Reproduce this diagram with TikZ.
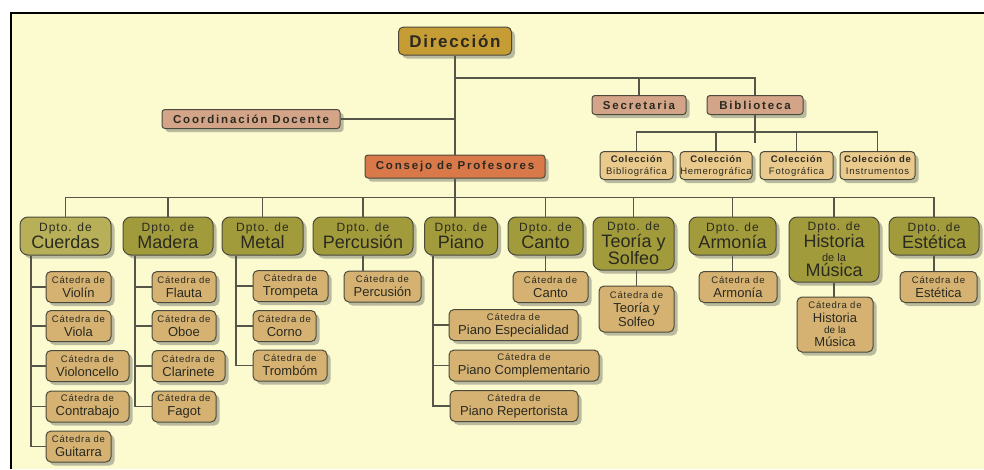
\documentclass[tikz,border=0pt]{standalone}
\usepackage{fontspec}
\setmainfont{Liberation Sans}
\newfontfamily\spaced[LetterSpace=16]{Liberation Sans}
\newfontfamily\titulo[LetterSpace=10]{Liberation Sans}
\newfontfamily\slight[LetterSpace=8]{Liberation Sans}
\usetikzlibrary{shadows}

\definecolor{fondo}{HTML}{FCFBCF}
\definecolor{linea}{HTML}{56554A}
\definecolor{borde}{HTML}{4A4A3C}
\definecolor{texto}{HTML}{2A2A20}
\definecolor{oro}{HTML}{C69C34}
\definecolor{salmon}{HTML}{D3A487}
\definecolor{naranja}{HTML}{D9794A}
\definecolor{crema}{HTML}{E9CA8C}
\definecolor{oliva}{HTML}{A29B3C}
\definecolor{olivaclaro}{HTML}{B8B058}
\definecolor{tostado}{HTML}{D6B272}

\newcommand{\dpto}[1]{{\slight\fontsize{12}{17}\selectfont Dpto. de}\\#1}
\newcommand{\catedra}[1]{{\slight\fontsize{9.5}{14}\selectfont Cátedra de}\\#1}
\newcommand{\coleccion}[1]{{\bfseries Colección}\\#1}

\begin{document}
\begin{tikzpicture}[x=1pt,y=-1pt,
  caja/.style={draw=borde,line width=1pt,text=texto,inner sep=0pt,align=center,
    drop shadow={shadow xshift=3.5pt,shadow yshift=-3.5pt,opacity=.4,fill=black!65}},
  jefe/.style={caja,fill=oro,rounded corners=5pt,minimum width=113pt,minimum height=28pt,
    font=\titulo\bfseries\fontsize{17}{18}\selectfont},
  medio/.style={caja,fill=salmon,rounded corners=3pt,minimum height=19pt,
    font=\spaced\bfseries\fontsize{11.5}{12}\selectfont},
  consejo/.style={caja,fill=naranja,rounded corners=3pt,minimum width=180pt,minimum height=23pt,
    font=\spaced\bfseries\fontsize{11.5}{12}\selectfont},
  col/.style={caja,fill=crema,rounded corners=4pt,minimum height=28pt,
    font=\slight\fontsize{9.5}{12}\selectfont},
  dep/.style={caja,fill=oliva,rounded corners=8pt,minimum height=38pt,
    font=\fontsize{18}{17}\selectfont},
  cat/.style={caja,fill=tostado,rounded corners=5pt,minimum height=31pt,
    font=\fontsize{13}{14}\selectfont},
  rama/.style={draw=linea,line width=1.2pt}]
\useasboundingbox (0,0) rectangle (984,469);
\fill[fondo] (11,13) rectangle (984,469);
\draw[line width=2.5pt] (11,469) -- (11,13) -- (984,13);

% cabeza
\node[jefe] (dir) at (455,41) {Dirección};
\node[medio,minimum width=178pt] (coord) at (251,119) {Coordinación Docente};
\node[medio,minimum width=94pt] (secr) at (639,105) {Secretaria};
\node[medio,minimum width=96pt] (bibl) at (755,105) {Biblioteca};
\node[consejo] (cons) at (455,166.5) {Consejo de Profesores};

% colecciones
\node[col,minimum width=73pt] (colBib) at (636.5,165.5) {\coleccion{Bibliográfica}};
\node[col,minimum width=72pt] (colHem) at (716,165.5) {\coleccion{Hemerográfica}};
\node[col,minimum width=73pt] (colFot) at (796.5,165.5) {\coleccion{Fotográfica}};
\node[col,minimum width=75pt] (colIns) at (877.5,165.5) {{\bfseries Colección de}\\Instrumentos};

% departamentos
\node[dep,fill=olivaclaro,minimum width=91pt] (cuerdas) at (65.5,236) {\dpto{Cuerdas}};
\node[dep,minimum width=90pt] (madera) at (168,236) {\dpto{Madera}};
\node[dep,minimum width=81pt] (metal) at (262.5,236) {\dpto{Metal}};
\node[dep,minimum width=100pt] (percusion) at (363,236) {\dpto{Percusión}};
\node[dep,minimum width=73pt] (piano) at (461,236) {\dpto{Piano}};
\node[dep,minimum width=75pt] (canto) at (545.5,236) {\dpto{Canto}};
\node[dep,minimum width=81pt,minimum height=53pt] (teoria) at (633.5,243.5) {\dpto{Teoría y\\Solfeo}};
\node[dep,minimum width=87pt] (armonia) at (732.5,236) {\dpto{Armonía}};
\node[dep,minimum width=90pt,minimum height=65pt] (historia) at (834,249.5)
  {\dpto{Historia}\\[-3pt]{\fontsize{11}{11}\selectfont de la}\\[-2pt]Música};
\node[dep,minimum width=90pt] (estetica) at (934,236) {\dpto{Estética}};

% catedras
\node[cat,minimum width=65pt] (violin) at (78.5,287) {\catedra{Violín}};
\node[cat,minimum width=65pt] (viola) at (78.5,326) {\catedra{Viola}};
\node[cat,minimum width=83pt] (violoncello) at (87.5,366) {\catedra{Violoncello}};
\node[cat,minimum width=83pt] (contrabajo) at (87.5,406.5) {\catedra{Contrabajo}};
\node[cat,minimum width=65pt] (guitarra) at (78.5,446.5) {\catedra{Guitarra}};
\node[cat,minimum width=64pt] (flauta) at (184,287) {\catedra{Flauta}};
\node[cat,minimum width=64pt] (oboe) at (184,326) {\catedra{Oboe}};
\node[cat,minimum width=73pt] (clarinete) at (188.5,366) {\catedra{Clarinete}};
\node[cat,minimum width=64pt] (fagot) at (184,406.5) {\catedra{Fagot}};
\node[cat,minimum width=75pt] (trompeta) at (290.5,286) {\catedra{Trompeta}};
\node[cat,minimum width=63pt] (corno) at (284.5,326) {\catedra{Corno}};
\node[cat,minimum width=74pt] (trombom) at (290,365.5) {\catedra{Trombóm}};
\node[cat,minimum width=77pt] (catPerc) at (382.5,286.5) {\catedra{Percusión}};
\node[cat,minimum width=129pt] (pEsp) at (513.5,325) {\catedra{Piano Especialidad}};
\node[cat,minimum width=150pt] (pCom) at (524,365.5) {\catedra{Piano Complementario}};
\node[cat,minimum width=128pt] (pRep) at (514,406) {\catedra{Piano Repertorista}};
\node[cat,minimum width=75pt] (catCanto) at (550.5,287) {\catedra{Canto}};
\node[cat,minimum width=75pt,minimum height=46pt] (catTeoria) at (636.5,309) {\catedra{Teoría y\\Solfeo}};
\node[cat,minimum width=78pt] (catArm) at (738,287) {\catedra{Armonía}};
\node[cat,minimum width=76pt,minimum height=55pt] (catHist) at (835,324.5)
  {\catedra{Historia}\\[-3pt]{\fontsize{10}{10}\selectfont de la}\\[-1pt]Música};
\node[cat,minimum width=77pt] (catEst) at (938.5,287) {\catedra{Estética}};

% lineas de mando
\coordinate (busA) at (455,78);
\coordinate (spCuerdas) at (31,0);
\coordinate (spMadera) at (135,0);
\coordinate (spMetal) at (236,0);
\coordinate (spPiano) at (433,0);
\draw[rama] (dir) -- (cons);
\draw[rama] (busA) -| (bibl.north);
\draw[rama] (busA -| secr.north) -- (secr.north);
\draw[rama] (coord.east) -- (coord.east -| dir);
\draw[rama] (bibl.south) -- ++(0,28);
\draw[rama] (colBib.north) -- ++(0,-19) -| (colIns.north);
\foreach \c in {colHem,colFot}
  \draw[rama] (\c.north) -- ++(0,-19);
\draw[rama] (cons.south) -- (cons.south |- piano.north);
\draw[rama] (cuerdas.north) -- ++(0,-19) -| (estetica.north);
\foreach \d in {madera,metal,percusion,canto,teoria,armonia,historia}
  \draw[rama] (\d.north) -- ++(0,-19);

% catedras por departamento
\draw[rama] (cuerdas.south -| spCuerdas) |- (guitarra.west);
\foreach \c in {violin,viola,violoncello,contrabajo}
  \draw[rama] (\c.west) -- (\c.west -| spCuerdas);
\draw[rama] (madera.south -| spMadera) |- (fagot.west);
\foreach \c in {flauta,oboe,clarinete}
  \draw[rama] (\c.west) -- (\c.west -| spMadera);
\draw[rama] (metal.south -| spMetal) |- (trombom.west);
\foreach \c in {trompeta,corno}
  \draw[rama] (\c.west) -- (\c.west -| spMetal);
\draw[rama] (piano.south -| spPiano) |- (pRep.west);
\foreach \c in {pEsp,pCom}
  \draw[rama] (\c.west) -- (\c.west -| spPiano);
\draw[rama] (percusion.south) -- (percusion.south |- catPerc.north);
\draw[rama] (canto.south) -- (canto.south |- catCanto.north);
\draw[rama] (catTeoria.north) -- (catTeoria.north |- teoria.south);
\draw[rama] (armonia.south) -- (armonia.south |- catArm.north);
\draw[rama] (historia.south) -- (historia.south |- catHist.north);
\draw[rama] (estetica.south) -- (estetica.south |- catEst.north);
\end{tikzpicture}
\end{document}
